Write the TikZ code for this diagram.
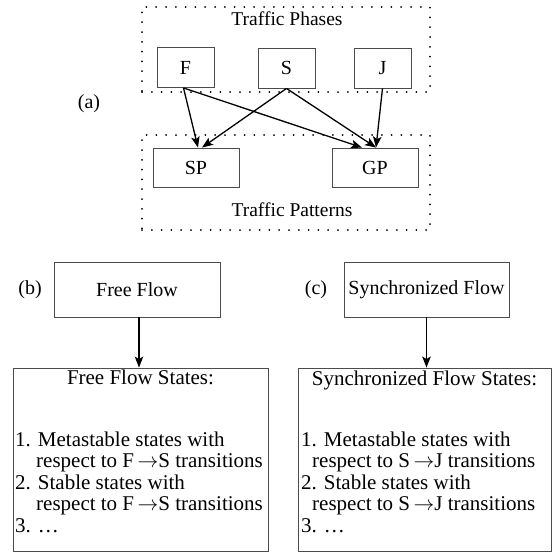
\documentclass[tikz,border=0pt]{standalone}
\usepackage{fontspec}
\setmainfont{Liberation Serif}
\usetikzlibrary{arrows.meta}
\tikzset{
  txt/.style={font=\fontsize{20}{24}\selectfont, inner sep=0pt, text=black},
  bx/.style={txt, draw=black!70, line width=0.9pt},
  dotbox/.style={draw=black, line width=2pt, dash pattern=on 0pt off 9.8pt, line cap=round, inner sep=0pt},
  arr/.style={line width=1.3pt, -{Stealth[length=11pt,width=8.5pt,inset=2.5pt]}},
  listtext/.style={font=\fontsize{21}{21.5}\selectfont, inner sep=0pt, align=left, anchor=north west},
  hd/.style={font=\fontsize{21}{22}\selectfont, inner sep=0pt, anchor=base},
  grouptitle/.style={font=\fontsize{19.5}{22}\selectfont, inner sep=0pt},
}
\begin{document}
\begin{tikzpicture}[x=1pt,y=-1pt]
\useasboundingbox (0,0) rectangle (552,552);
% (a)
\node[dotbox, minimum width=288pt, minimum height=85pt] (phases) at (286,49.5) {};
\node[dotbox, minimum width=288pt, minimum height=95pt] (patterns) at (286,182.5) {};
\node[grouptitle] (tp) at (287,19) {Traffic Phases};
\node[grouptitle] (tpat) at (292,210) {Traffic Patterns};
\node[txt] (la) at (89,104) {(a)};
\node[bx, minimum width=57pt, minimum height=40pt] (F) at (185.5,67.5) {F};
\node[bx, minimum width=57pt, minimum height=40pt] (S) at (286.5,68) {S};
\node[bx, minimum width=57pt, minimum height=40pt] (J) at (382.5,68) {J};
\node[bx, minimum width=86pt, minimum height=39pt] (SP) at (196,167.5) {SP};
\node[bx, minimum width=86pt, minimum height=39pt] (GP) at (375,167.5) {GP};
\draw[arr] ([xshift=-2pt]F.south) -- ([xshift=2pt]SP.north);
\draw[arr] ([xshift=-2pt]F.south) -- ([xshift=-13pt]GP.north);
\draw[arr] (S.south) -- ([xshift=6pt]SP.north);
\draw[arr] (S.south) -- ([xshift=1pt]GP.north);
\draw[arr] (J.south) -- ([xshift=1pt]GP.north);
% (b)
\node[txt] (lb) at (30,290) {(b)};
\node[bx, minimum width=166pt, minimum height=55pt] (FF) at (137,289.5) {Free Flow};
\node[bx, minimum width=255pt, minimum height=183pt] (FFS) at (140.5,459.5) {};
\draw[arr] ([xshift=2pt]FF.south) -- ([xshift=2pt]FF.south |- FFS.north);
\node[hd] (ffh) at (140.5,384) {Free Flow States:};
\node[listtext] (flist) at (15,431.7) {1. Metastable states with\\
\hspace*{21pt}respect to F\,$\rightarrow$S transitions\\
2. Stable states with\\
\hspace*{21pt}respect to F\,$\rightarrow$S transitions\\
3. \dots};
% (c)
\node[txt] (lc) at (316,290) {(c)};
\node[bx, minimum width=165pt, minimum height=55pt] (SF) at (426.5,289.5) {Synchronized Flow};
\node[bx, minimum width=253pt, minimum height=183pt] (SFS) at (424.5,459.5) {};
\draw[arr] (SF.south) -- (SF.south |- SFS.north);
\node[hd] (sfh) at (424.5,385) {Synchronized Flow States:};
\node[listtext] (slist) at (301,431.7) {1. Metastable states with\\
\hspace*{11pt}respect to S\,$\rightarrow$J transitions\\
2. Stable states with\\
\hspace*{11pt}respect to S\,$\rightarrow$J transitions\\
3. \dots};
\end{tikzpicture}
\end{document}
